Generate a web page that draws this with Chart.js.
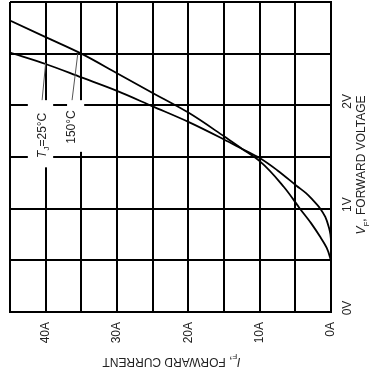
<!DOCTYPE html>
<html><head><meta charset="utf-8">
<script src="https://cdn.jsdelivr.net/npm/chart.js@4/dist/chart.umd.min.js"></script>
<style>html,body{margin:0;padding:0;background:#fff}#wrap{width:374px;height:374px;position:relative}</style>
</head><body><div id="wrap"><canvas id="c"></canvas></div>
<script>
// ---- data (forward current in A, forward voltage in V) ----
const tj25Current = [0, 0, 0.08, 0.3, 0.8, 1.5, 2.5, 3.5, 4.8, 7.5, 10, 12.5, 15, 20, 25, 30, 35, 40, 45];
const tj25Voltage = [0, 0.66, 0.75, 0.82, 0.92, 1.0, 1.08, 1.15, 1.22, 1.37, 1.49, 1.58, 1.67, 1.84, 1.99, 2.14, 2.27, 2.40, 2.51];
const tj150Current = [0, 0, 0.14, 0.6, 1.54, 2.8, 4.35, 6.6, 10, 12.5, 15, 20, 25, 30, 35, 40, 45];
const tj150Voltage = [0, 0.48, 0.53, 0.62, 0.73, 0.86, 1.0, 1.21, 1.46, 1.58, 1.70, 1.93, 2.12, 2.31, 2.50, 2.66, 2.82];
const currentLabels = [0, 10, 20, 30, 40];   // labelled current ticks (A)
const voltageLabels = [0, 1, 2];             // labelled voltage ticks (V)
const seriesNames = ['TJ=25°C', '150°C'];

const FONT = '"Liberation Sans", Arial, Helvetica, sans-serif';
const TXT = '#222';

function pts(xs, ys){ return xs.map((x,i)=>({x:x, y:ys[i]})); }

function drawRich(ctx, parts, cx, cy, angle, size){
  ctx.save();
  ctx.translate(cx, cy);
  ctx.rotate(angle);
  ctx.textBaseline = 'alphabetic';
  ctx.fillStyle = TXT;
  const fontOf = p => (p.italic ? 'italic ' : '') + (p.sub ? Math.round(size*0.7) : size) + 'px ' + FONT;
  let total = 0;
  parts.forEach(p => { ctx.font = fontOf(p); total += ctx.measureText(p.t).width; });
  let x = -total/2;
  const base = size*0.36;
  parts.forEach(p => {
    ctx.font = fontOf(p);
    ctx.fillText(p.t, x, base + (p.sub ? size*0.3 : 0));
    x += ctx.measureText(p.t).width;
  });
  ctx.restore();
}

const annot = {
  id: 'annot',
  afterDatasetsDraw(chart){
    const ctx = chart.ctx;
    const xs = chart.scales.x, ys = chart.scales.y;
    const px = v => xs.getPixelForValue(v), py = v => ys.getPixelForValue(v);
    // white boxes behind labels
    ctx.save();
    ctx.fillStyle = '#fff';
    ctx.fillRect(px(42.5), py(2.05), px(38.95)-px(42.5), py(1.40)-py(2.05));
    ctx.fillRect(px(37.0), py(2.05), px(34.6)-px(37.0), py(1.55)-py(2.05));
    // leader lines
    ctx.strokeStyle = '#555';
    ctx.lineWidth = 1;
    ctx.beginPath();
    ctx.moveTo(px(40.5), py(2.05)); ctx.lineTo(px(40.0), py(2.41));
    ctx.moveTo(px(36.3), py(2.05)); ctx.lineTo(px(35.5), py(2.50));
    ctx.stroke();
    ctx.restore();
    drawRich(ctx, [{t:'T', italic:true},{t:'J', sub:true},{t:'=25°C'}], px(40.6), py(1.71), -Math.PI/2, 12);
    drawRich(ctx, [{t:'150°C'}], px(36.45), py(1.79), -Math.PI/2, 12);
    // axis titles
    drawRich(ctx, [{t:'I', italic:true},{t:'F', sub:true},{t:', FORWARD CURRENT'}], (chart.chartArea.left+chart.chartArea.right)/2+1, 362, Math.PI, 12);
    drawRich(ctx, [{t:'V', italic:true},{t:'F', sub:true},{t:', FORWARD VOLTAGE'}], 361, 165, -Math.PI/2, 12);
  }
};

new Chart(document.getElementById('c'), {
  type: 'line',
  data: {
    datasets: [
      { label: seriesNames[0], data: pts(tj25Current, tj25Voltage) },
      { label: seriesNames[1], data: pts(tj150Current, tj150Voltage) }
    ]
  },
  options: {
    indexAxis: 'y',
    responsive: true,
    maintainAspectRatio: false,
    animation: false,
    events: [],
    layout: { padding: { left: 10, top: 2, right: 0, bottom: 0 } },
    elements: {
      line: { borderColor: '#000', borderWidth: 1.8, cubicInterpolationMode: 'monotone', fill: false },
      point: { radius: 0 }
    },
    plugins: { legend: { display: false }, tooltip: { enabled: false } },
    scales: {
      x: {
        type: 'linear', position: 'bottom', reverse: true, min: 0, max: 45,
        afterFit: s => { s.height = 62; s.paddingLeft = 0; s.paddingRight = 0; },
        grid: { color: '#000', lineWidth: 2, drawTicks: false },
        border: { color: '#000', width: 2 },
        ticks: {
          stepSize: 5, padding: 10, minRotation: 90, maxRotation: 90, autoSkip: false,
          color: TXT, font: { family: FONT, size: 12 },
          callback: v => currentLabels.includes(v) ? v + 'A' : ''
        }
      },
      y: {
        type: 'linear', position: 'right', min: 0, max: 3,
        afterFit: s => { s.width = 43; s.paddingTop = 0; s.paddingBottom = 0; },
        grid: { color: '#000', lineWidth: 2, drawTicks: false },
        border: { color: '#000', width: 2 },
        ticks: {
          stepSize: 0.5, padding: 9, minRotation: 90, maxRotation: 90, crossAlign: 'center', autoSkip: false,
          labelOffset: -4,
          color: TXT, font: { family: FONT, size: 12 },
          callback: v => voltageLabels.includes(v) ? v + 'V' : ''
        }
      }
    }
  },
  plugins: [annot]
});
</script></body></html>
